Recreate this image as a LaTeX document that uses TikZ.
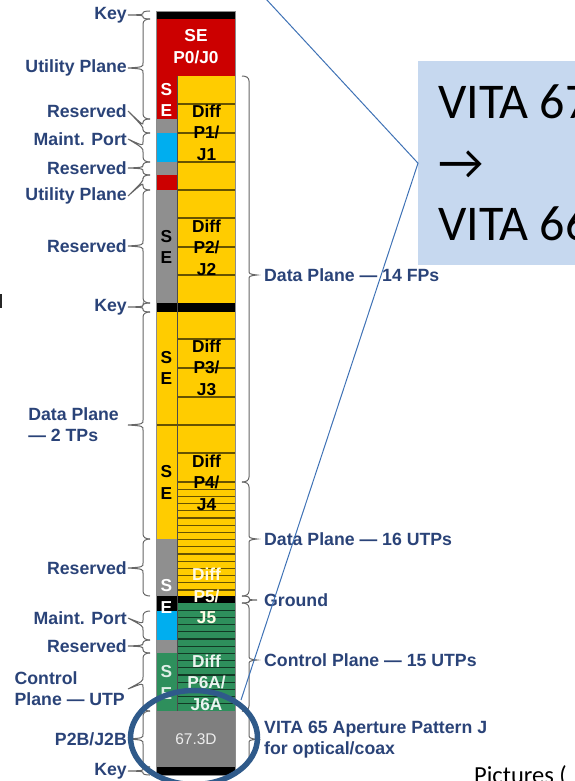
\documentclass[tikz,border=0pt]{standalone}
\usepackage{fontspec}
\setmainfont{Liberation Sans}
\newfontfamily\slidefont{Carlito}
\usetikzlibrary{calc,shapes.geometric}
\definecolor{ink}{HTML}{2A4378}
\definecolor{keyred}{HTML}{CC0000}
\definecolor{diffyellow}{HTML}{FFCC00}
\definecolor{resgray}{HTML}{8F8F8F}
\definecolor{apgray}{HTML}{7F7F7F}
\definecolor{portblue}{HTML}{00AEEF}
\definecolor{ctlgreen}{HTML}{2E8F5C}
\definecolor{bracegray}{HTML}{666666}
\definecolor{pale}{HTML}{C6D8EF}
\definecolor{wire}{HTML}{3F72B5}
\definecolor{ring}{HTML}{2F5A8A}
\tikzset{lab/.style={font=\fontsize{17.7}{21}\selectfont\bfseries,text=ink,align=left,inner ysep=0pt},
leftlab/.style={lab,anchor=east,inner xsep=1pt},
rightlab/.style={lab,anchor=west,inner xsep=7pt},
celltext/.style={font=\fontsize{17.3}{21.5}\selectfont\bfseries,align=center,inner sep=0pt},
planebrace/.style={draw=bracegray,line width=1pt},
slot/.style={line width=1.2pt},
slide/.style={font=\slidefont\fontsize{50}{61}\selectfont,inner sep=0pt,anchor=base west}}
\begin{document}
\begin{tikzpicture}[x=1pt,y=-1pt]
\useasboundingbox (0,0) rectangle (575,781);
\clip (0,0) rectangle (575,781);
% connector stack, left and right columns
\foreach \ya/\yb/\col in {11/19/black,19/76/keyred,596/603/black,711/767/apgray,767/775/black,303/312/black}
 \fill[\col] (156,\ya) rectangle (235,\yb);
\foreach \ya/\yb/\col in {76/119/keyred,119/133/resgray,133/162/portblue,162/175/resgray,175/190/keyred,190/303/resgray,312/539/diffyellow,539/596/resgray,596/611/black,611/640/portblue,640/653/resgray,653/711/ctlgreen}
 \fill[\col] (156,\ya) rectangle (177.5,\yb);
\fill[diffyellow] (177.5,76) rectangle (235,303);
\fill[diffyellow] (177.5,312) rectangle (235,596);
\fill[ctlgreen] (177.5,603) rectangle (235,711);
% slot lines
\foreach \y in {104,133,162,190,218,247,275,339,368,397,425,453}
 \draw[slot,black!60!diffyellow] (177.5,\y) -- (235,\y);
\foreach \y in {482,489.2,...,595}
 \draw[slot,black!60!diffyellow] (177.5,\y) -- (235,\y);
\foreach \y in {610.2,617.4,...,708}
 \draw[slot,black!60!ctlgreen] (177.5,\y) -- (235,\y);
\draw[slot,black!60!diffyellow] (156,425) -- (177.5,425);
\draw[slot,black!70] (177.5,76) -- (177.5,711);
\draw[black!45,thin] (156,11) rectangle (235,775);
% texts on the stack
\node[celltext,text=white] (se0) at (196,46.5) {SE\\P0/J0};
\foreach \nam/\y/\col/\txt in {se1/100/white/{S\\E},se2/247/black/{S\\E},se3/368/black/{S\\E},se4/482.5/black/{S\\E},se5/596.5/white/{S\\E},se6/682.5/white!85!ctlgreen/{S\\E}}
 \node[celltext,text=\col] (\nam) at (166.5,\y) {\txt};
\foreach \nam/\y/\col/\txt in {dif1/132.5/black/{Diff\\P1/\\J1},dif2/247.5/black/{Diff\\P2/\\J2},dif3/367.5/black/{Diff\\P3/\\J3},dif4/482.5/black/{Diff\\P4/\\J4},dif5/596/white!90!diffyellow/{Diff\\P5/\\J5},dif6/682.5/white!90!ctlgreen/{Diff\\P6A/\\J6A}}
 \node[celltext,text=\col] (\nam) at (206.5,\y) {\txt};
\node[font=\fontsize{15.5}{18}\selectfont,text=white!85!apgray,inner sep=0pt] (ap) at (196,739) {67.3D};
% left labels
\node[leftlab] (keya) at (128,15) {Key};
\node[leftlab] (utila) at (128,68) {Utility Plane};
\node[leftlab] (resa) at (128,111) {Reserved};
\node[leftlab] (porta) at (128,139) {Maint. Port};
\node[leftlab] (resb) at (128,168) {Reserved};
\node[leftlab] (utilb) at (128,196) {Utility Plane};
\node[leftlab] (resc) at (128,246) {Reserved};
\node[leftlab] (keyb) at (128,307) {Key};
\node[leftlab,inner xsep=9pt] (dtp) at (128,425) {Data Plane\\— 2 TPs};
\node[leftlab] (resd) at (128,568) {Reserved};
\node[leftlab] (portb) at (128,618) {Maint. Port};
\node[leftlab] (rese) at (128,646) {Reserved};
\node[leftlab,inner xsep=3pt] (cutp) at (128,689) {Control\\Plane — UTP};
\node[leftlab] (ptwob) at (128,739) {P2B/J2B};
\node[leftlab] (keyc) at (128,771) {Key};
% right labels
\node[rightlab] (dfp) at (257,275) {Data Plane — 14 FPs};
\node[rightlab] (dutp) at (257,539) {Data Plane — 16 UTPs};
\node[rightlab] (gnd) at (257,600) {Ground};
\node[rightlab] (cplane) at (257,660) {Control Plane — 15 UTPs};
\node[rightlab] (vita) at (257,739.5) {VITA 65 Aperture Pattern J\\for optical/coax};
% braces, the tip goes to the label
\foreach \lab/\ya/\ym/\yb in {keya/11/15/19,utila/19/68/119,resa/119/126/133,porta/133/147/162,resb/162/168/175,utilb/175/182/190,resc/190/246/303,keyb/303/307/312,dtp/312/425/539,resd/539/568/596,portb/611/625/640,rese/640/646/653,cutp/653/682/711,ptwob/711/739/767,keyc/767/771/775}{
 \pgfmathsetmacro{\yr}{min(5,(\yb-\ya)/4)}
 \draw[planebrace] (150,\ya) .. controls (146,\ya) and (143,\ya+\yr*.3) .. (143,\ya+\yr) -- (143,\ym-\yr)
  .. controls (143,\ym-\yr*.2) .. (\lab.east) .. controls (143,\ym+\yr*.2) .. (143,\ym+\yr) -- (143,\yb-\yr)
  .. controls (143,\yb-\yr*.3) and (146,\yb) .. (150,\yb);
}
\foreach \lab/\ya/\ym/\yb in {dfp/76/275/482,dutp/482/539/596,gnd/596/600/603,cplane/603/660/711,vita/711/739/767}{
 \pgfmathsetmacro{\yr}{min(5,(\yb-\ya)/4)}
 \draw[planebrace] (242,\ya) .. controls (246,\ya) and (249,\ya+\yr*.3) .. (249,\ya+\yr) -- (249,\ym-\yr)
  .. controls (249,\ym-\yr*.2) .. (\lab.west) .. controls (249,\ym+\yr*.2) .. (249,\ym+\yr) -- (249,\yb-\yr)
  .. controls (249,\yb-\yr*.3) and (246,\yb) .. (242,\yb);
}
% callout
\node[fill=pale,anchor=north west,minimum width=157pt,minimum height=204pt,inner sep=0pt] (box) at (418,61) {};
\node[slide] (va) at (438,118) {VITA 67};
\node[slide] (arr) at (438,179) {→};
\node[slide] (vb) at (438,240) {VITA 66};
\coordinate (topend) at (266,-1);
\coordinate (botend) at (241,700);
\draw[wire,line width=1pt] (topend) -- (box.west) -- (botend);
\node[draw=ring,line width=5.5pt,ellipse,minimum width=127pt,minimum height=94pt,inner sep=0pt] (ringa) at (194,737.5) {};
\node[font=\slidefont\fontsize{24.5}{28}\selectfont,anchor=base west,inner sep=0pt] (pics) at (474,783) {Pictures (};
\fill[black!85] (0,294) rectangle (1.5,308);
\end{tikzpicture}
\end{document}
